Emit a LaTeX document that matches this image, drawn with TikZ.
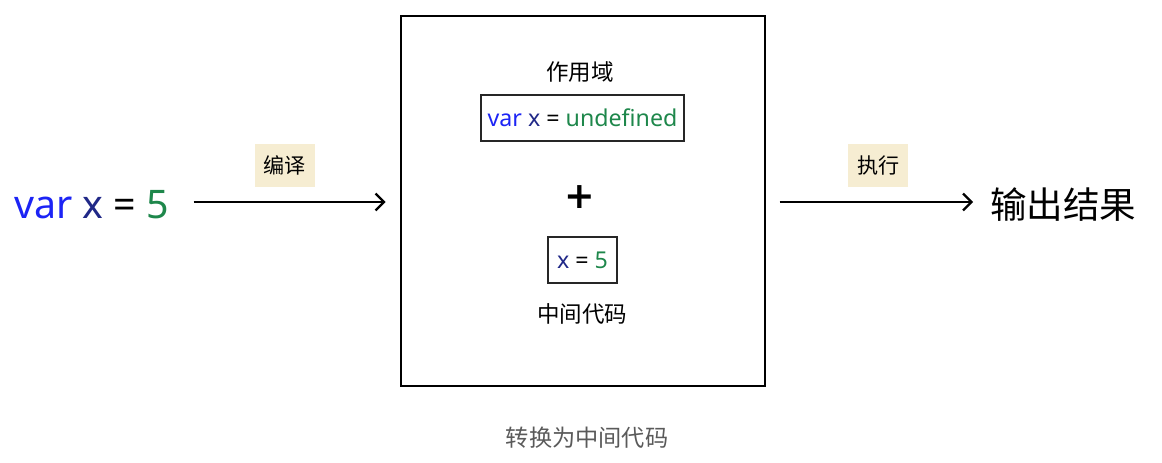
\documentclass[tikz,border=0pt]{standalone}
\usepackage{fontspec}
\setmainfont{Noto Sans}
\newfontfamily\cjk{Noto Sans CJK SC}
\newfontfamily\plusfont{DejaVu Sans}
\usetikzlibrary{arrows.meta,positioning}

\definecolor{kwblue}{RGB}{28,36,245}
\definecolor{idnavy}{RGB}{32,40,135}
\definecolor{numgreen}{RGB}{30,135,75}
\definecolor{tagfill}{RGB}{246,237,210}
\definecolor{capgray}{RGB}{90,90,90}

\begin{document}
\begin{tikzpicture}[x=0.025cm,y=-0.025cm]
\tikzstyle{code} = [inner sep=0pt, font=\fontsize{28}{30}\selectfont]
\tikzstyle{stage} = [rectangle, draw=black, line width=1.8pt,
minimum width=9.1cm, minimum height=9.25cm]
\tikzstyle{codebox} = [rectangle, draw=black!85, line width=1.3pt,
minimum height=1.15cm, inner sep=0pt, font=\fontsize{16.5}{18}\selectfont]
\tikzstyle{title} = [inner sep=0pt, font=\cjk\fontsize{16}{18}\selectfont]
\tikzstyle{tag} = [rectangle, fill=tagfill, minimum width=1.5cm,
minimum height=1.075cm, inner sep=0pt, font=\cjk\fontsize{15}{17}\selectfont]
\tikzstyle{line} = [draw, line width=1.7pt, -{Straight Barb[length=6pt,width=12pt]}]

\useasboundingbox (0,0) rectangle (1162,462);

% left: the source
\node [code, anchor=west] (src) at (14,205)
{\textcolor{kwblue}{var} \textcolor{idnavy}{x} = \textcolor{numgreen}{5}};

% middle: the big box
\node [stage] (stage) at (583,201) {};
\node [title] (scope) at (580,72) {作用域};
\node [codebox, minimum width=5.075cm] (decl) at (582.5,118)
{\textcolor{kwblue}{var} \textcolor{idnavy}{x} = \textcolor{numgreen}{undefined}};
\node [inner sep=0pt, font=\plusfont\bfseries\fontsize{26}{28}\selectfont] (plus) at (580,197) {+};
\node [codebox, minimum width=1.725cm] (assign) at (582.5,260)
{\textcolor{idnavy}{x} = \textcolor{numgreen}{5}};
\node [title] (mid) at (582,314) {中间代码};

% right: the result
\node [inner sep=0pt, anchor=west, font=\cjk\fontsize{26}{28}\selectfont] (out) at (990,205) {输出结果};

% caption
\node [inner sep=0pt, text=capgray, font=\cjk\fontsize{16.5}{18}\selectfont] (cap) at (587,438) {转换为中间代码};

\path [line, shorten <=0.6cm, shorten >=0.35cm] (src.east |- 0,202) -- node [tag, above=0.35cm] (compile) {编译} (stage.west |- 0,202);
\path [line, shorten <=0.33cm, shorten >=0.42cm] (stage.east |- 0,202) -- node [tag, above=0.35cm] (run) {执行} (out.west |- 0,202);

\end{tikzpicture}
\end{document}
